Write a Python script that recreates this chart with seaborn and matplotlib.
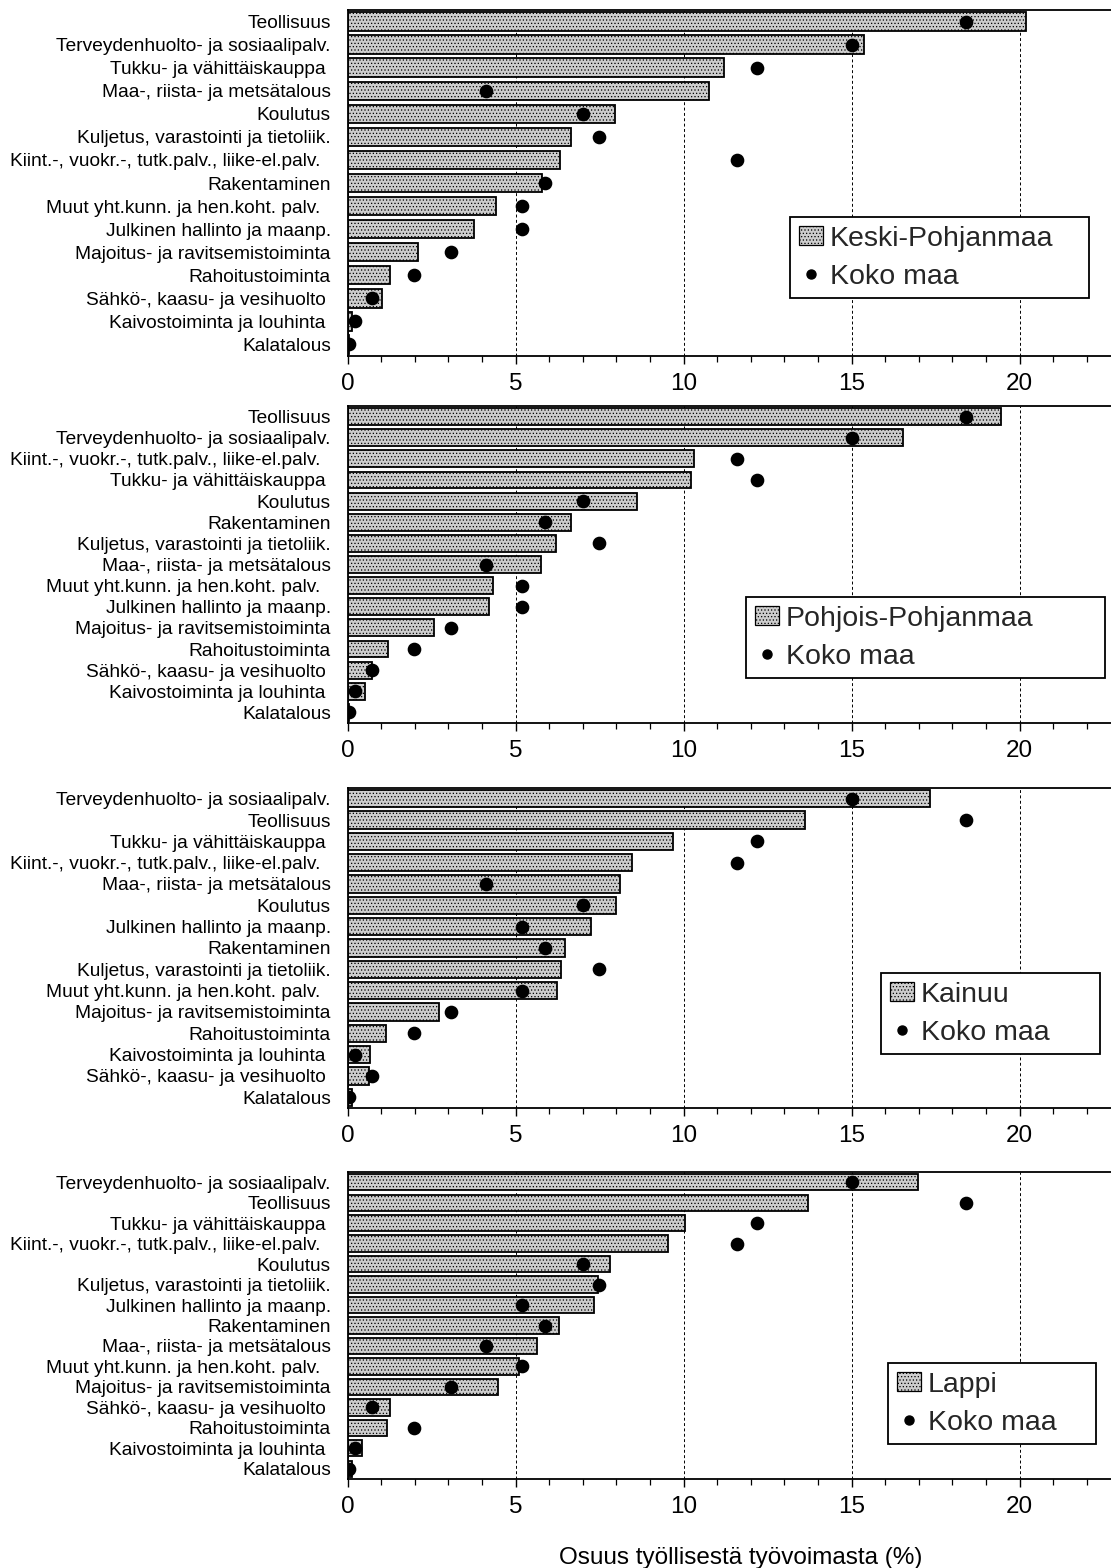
import numpy as np
import pandas as pd
import matplotlib
matplotlib.use("Agg")
import matplotlib.pyplot as plt
import seaborn as sns
from matplotlib.patches import Patch
from matplotlib.lines import Line2D
from matplotlib.ticker import MultipleLocator

# ---------------- data ----------------
TEO = "Teollisuus"
TER = "Terveydenhuolto- ja sosiaalipalv."
TUK = "Tukku- ja vähittäiskauppa "
KII = "Kiint.-, vuokr.-, tutk.palv., liike-el.palv.  "
KUL = "Kuljetus, varastointi ja tietoliik."
KOU = "Koulutus"
RAK = "Rakentaminen"
MUU = "Muut yht.kunn. ja hen.koht. palv.  "
JUL = "Julkinen hallinto ja maanp."
MAA = "Maa-, riista- ja metsätalous"
MAJ = "Majoitus- ja ravitsemistoiminta"
RAH = "Rahoitustoiminta"
SAH = "Sähkö-, kaasu- ja vesihuolto "
KAI = "Kaivostoiminta ja louhinta "
KAL = "Kalatalous"

industries = [TEO, TER, TUK, KII, KUL, KOU, RAK, MUU, JUL, MAA, MAJ, RAH, SAH, KAI, KAL]
koko_maa = [18.4, 15.0, 12.2, 11.58, 7.47, 7.0, 5.88, 5.19, 5.2, 4.12, 3.08, 1.97, 0.72, 0.22, 0.05]

keski_cats = [TEO, TER, TUK, MAA, KOU, KUL, KII, RAK, MUU, JUL, MAJ, RAH, SAH, KAI, KAL]
keski_vals = [20.2, 15.38, 11.2, 10.76, 7.95, 6.64, 6.31, 5.79, 4.42, 3.76, 2.1, 1.26, 1.03, 0.13, 0.05]

pohjois_cats = [TEO, TER, KII, TUK, KOU, RAK, KUL, MAA, MUU, JUL, MAJ, RAH, SAH, KAI, KAL]
pohjois_vals = [19.46, 16.53, 10.3, 10.22, 8.6, 6.64, 6.2, 5.77, 4.34, 4.22, 2.57, 1.21, 0.73, 0.53, 0.04]

kainuu_cats = [TER, TEO, TUK, KII, MAA, KOU, JUL, RAK, KUL, MUU, MAJ, RAH, KAI, SAH, KAL]
kainuu_vals = [17.34, 13.62, 9.68, 8.47, 8.1, 7.98, 7.26, 6.46, 6.34, 6.22, 2.72, 1.15, 0.66, 0.63, 0.13]

lappi_cats = [TER, TEO, TUK, KII, KOU, KUL, JUL, RAK, MAA, MUU, MAJ, SAH, RAH, KAI, KAL]
lappi_vals = [16.97, 13.7, 10.03, 9.54, 7.8, 7.44, 7.33, 6.28, 5.65, 5.11, 4.48, 1.26, 1.17, 0.43, 0.13]

regions = ["Keski-Pohjanmaa", "Pohjois-Pohjanmaa", "Kainuu", "Lappi"]
xlabel = "Osuus työllisestä työvoimasta (%)"

# ---------------- style ----------------
sns.set_theme(style="white")
plt.rcParams["font.family"] = ["Liberation Sans", "DejaVu Sans"]
plt.rcParams["hatch.linewidth"] = 0.5

W, H = 1111, 1568
fig = plt.figure(figsize=(W / 100, H / 100), dpi=100)

left_px, right_px = 347.5, 1111
# (top_px, bottom_px) of each panel
panels_px = [(10, 356), (406, 723), (788, 1108), (1172, 1479)]
# legend boxes (x0, y0, x1) in px
legend_px = [(790, 217, 1089), (746, 597, 1105), (881, 973, 1100), (888, 1363, 1096)]

bar_color = "#cdcdcd"
koko_map = dict(zip(industries, koko_maa))
data_sets = [(keski_cats, keski_vals), (pohjois_cats, pohjois_vals),
             (kainuu_cats, kainuu_vals), (lappi_cats, lappi_vals)]

axes = []
for i, ((cats, vals), (tp, bp), region) in enumerate(zip(data_sets, panels_px, regions)):
    ax = fig.add_axes([left_px / W, 1 - bp / H, (right_px - left_px) / W, (bp - tp) / H])
    axes.append(ax)
    df = pd.DataFrame({"ala": cats, "osuus": vals, "koko": [koko_map[c] for c in cats]})
    sns.barplot(data=df, x="osuus", y="ala", order=cats, orient="h", color=bar_color,
                saturation=1, edgecolor="black", linewidth=1.3, width=0.8, ax=ax, zorder=2)
    for p in ax.patches:
        p.set_hatch(".....")
    sns.pointplot(data=df, x="koko", y="ala", order=cats, orient="h", color="black",
                  linestyle="none", markers="o", markersize=7.8, errorbar=None, ax=ax, zorder=4)

    ax.set_xlim(0, 22.72)
    ax.set_ylim(14.5, -0.5)
    ax.set_xlabel("")
    ax.set_ylabel("")
    ax.xaxis.set_major_locator(MultipleLocator(5))
    ax.xaxis.set_minor_locator(MultipleLocator(1))
    ax.grid(True, axis="x", which="major", color="black", linewidth=0.7,
            linestyle=(0, (3, 2.5)))
    ax.grid(False, axis="y")
    ax.set_axisbelow(True)
    ax.tick_params(axis="x", which="major", bottom=True, direction="out", length=6, width=1.0,
                   labelsize=17.5, pad=6, colors="black")
    ax.tick_params(axis="x", which="minor", bottom=True, direction="out", length=4, width=0.9,
                   colors="black")
    ax.tick_params(axis="y", length=0, pad=12, labelsize=13.8, labelcolor="black")
    for s in ["left", "bottom", "top"]:
        ax.spines[s].set_visible(True)
        ax.spines[s].set_color("black")
        ax.spines[s].set_linewidth(1.3)
    ax.spines["right"].set_visible(False)

    # legend
    x0, y0, x1 = legend_px[i]
    handles = [Patch(facecolor=bar_color, edgecolor="black", hatch=".....", linewidth=0.9),
               Line2D([], [], marker="o", color="black", linestyle="none", markersize=6.5)]
    leg = ax.legend(handles, [region, "Koko maa"], loc="upper left",
                    bbox_to_anchor=(x0 / W, 1 - y0 / H - 0.05, (x1 - x0) / W, 0.05),
                    bbox_transform=fig.transFigure, mode="expand",
                    fontsize=20.5, frameon=True, fancybox=False, shadow=False,
                    borderaxespad=0, borderpad=0.3, handlelength=0.85, handleheight=0.62,
                    handletextpad=0.25, labelspacing=0.42)
    fr = leg.get_frame()
    fr.set_edgecolor("black")
    fr.set_linewidth(1.3)
    fr.set_alpha(1)
    leg.set_zorder(10)

ax4 = axes[-1]
ax4.set_xlabel(xlabel, fontsize=17.5, color="black")
ax4.xaxis.set_label_coords(0.515, -0.22)
ax4.xaxis.label.set_va("top")

fig.savefig("out.png", dpi=100, facecolor="white")
